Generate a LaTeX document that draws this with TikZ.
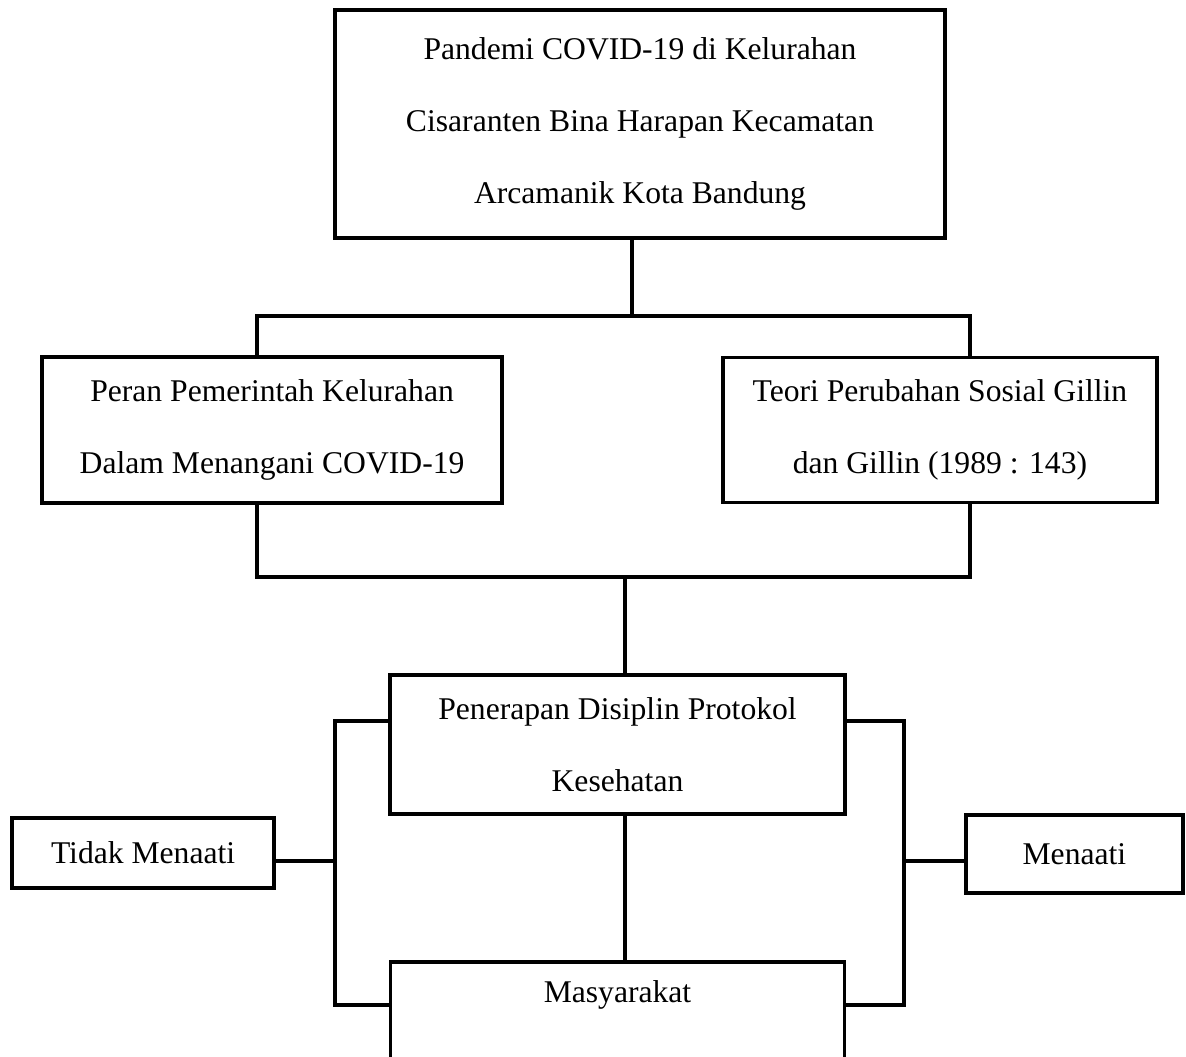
\documentclass[tikz,border=0pt]{standalone}
\usepackage{fontspec}
\setmainfont{Liberation Serif}
\usetikzlibrary{positioning}

\begin{document}
\begin{tikzpicture}[x=0.02cm,y=-0.02cm,node distance=2cm,on grid,line width=1.9pt]
\tikzstyle{kotak} = [rectangle,draw=black,align=center,inner sep=0pt,font=\fontsize{18}{41}\selectfont]
\useasboundingbox (0,0) rectangle (1186,1057);
\clip (0,0) rectangle (1186,1057);
    \node[kotak,minimum width=12.2cm,minimum height=4.56cm] (pandemi) at (640,124) {Pandemi COVID-19 di Kelurahan\\Cisaranten Bina Harapan Kecamatan\\Arcamanik Kota Bandung};
    \node[kotak,minimum width=9.2cm,minimum height=2.92cm] (peran) [below left =6.12cm and 7.36cm of pandemi] {Peran Pemerintah Kelurahan\\Dalam Menangani COVID-19};
    \node[kotak,minimum width=8.68cm,minimum height=2.9cm] (teori) [below right =6.12cm and 6cm of pandemi] {Teori Perubahan Sosial Gillin\\dan Gillin (1989 : 143)};
    \node[kotak,minimum width=9.1cm,minimum height=2.78cm] (penerapan) [below left =12.41cm and 0.45cm of pandemi] {Penerapan Disiplin Protokol\\Kesehatan};
    \node[kotak,minimum width=9.08cm,text height=0.82cm,text depth=1.96cm] (masyarakat) [below =5.74cm of penerapan] {Masyarakat};
    \node[kotak,minimum width=5.24cm,minimum height=1.4cm] (tidak) [below left =2.17cm and 9.49cm of penerapan] {Tidak Menaati};
    \node[kotak,minimum width=4.34cm,minimum height=1.56cm] (menaati) [below right =2.19cm and 9.14cm of penerapan] {Menaati};

    \coordinate (atas) at (632,316);
    \coordinate (atasL) at (257,316);
    \coordinate (atasR) at (970,316);
    \coordinate (tengah) at (625,577);
    \coordinate (kiriA) at (335,721);
    \coordinate (kiriB) at (335,1005);
    \coordinate (kiriC) at (335,861);
    \coordinate (kananA) at (904,721);
    \coordinate (kananB) at (904,1005);
    \coordinate (kananC) at (904,861);

    \draw (pandemi.south -| atas) -- (atas);
    \draw (peran.north -| atasL) -- (atasL) -- (atasR) -- (teori.north -| atasR);
    \draw (peran.south -| atasL) -- (atasL |- tengah) -- (atasR |- tengah) -- (teori.south -| atasR);
    \draw (tengah) -- (penerapan.north -| tengah);
    \draw (penerapan.south -| tengah) -- (masyarakat.north -| tengah);
    \draw (penerapan.west |- kiriA) -- (kiriA) -- (kiriB) -- (masyarakat.west |- kiriB);
    \draw (tidak.east |- kiriC) -- (kiriC);
    \draw (penerapan.east |- kananA) -- (kananA) -- (kananB) -- (masyarakat.east |- kananB);
    \draw (menaati.west |- kananC) -- (kananC);
\end{tikzpicture}
\end{document}
